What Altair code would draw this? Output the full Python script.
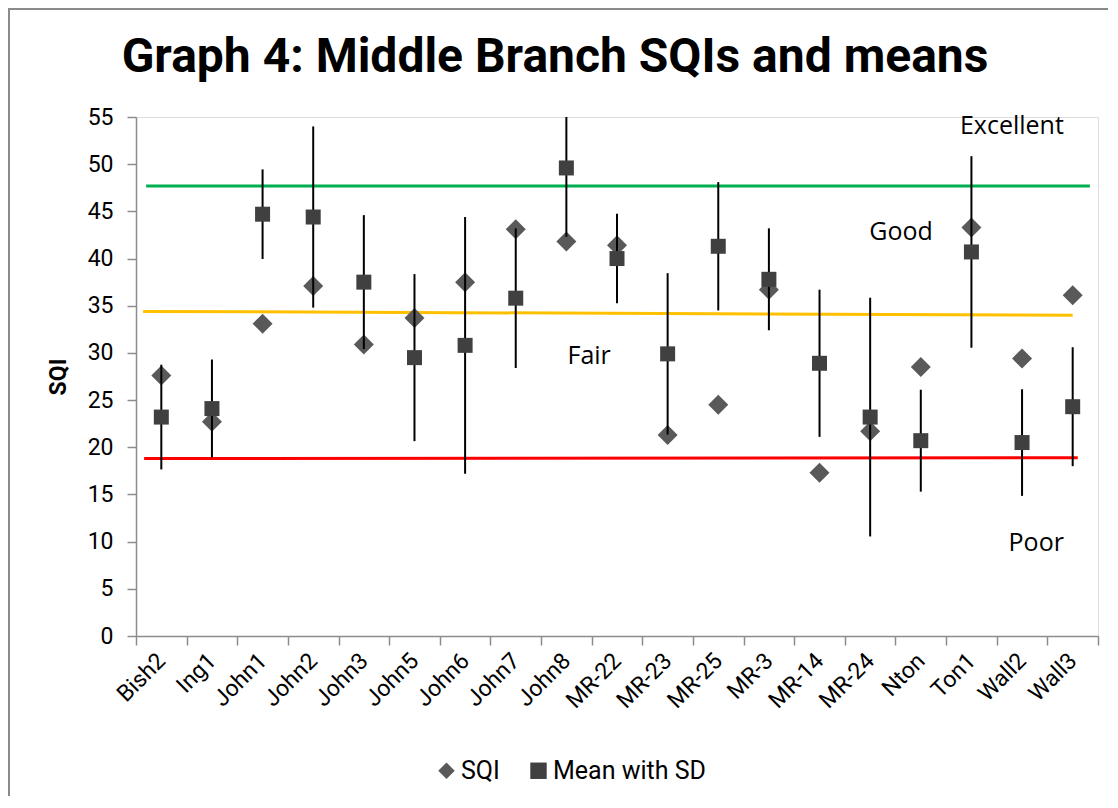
import altair as alt
import pandas as pd

sites = ["Bish2", "Ing1", "John1", "John2", "John3", "John5", "John6", "John7", "John8",
         "MR-22", "MR-23", "MR-25", "MR-3", "MR-14", "MR-24", "Nton", "Ton1", "Wall2", "Wall3"]
sqi = [27.6, 22.7, 33.1, 37.1, 30.9, 33.7, 37.5, 43.1, 41.8, 41.4,
       21.3, 24.5, 36.7, 17.3, 21.7, 28.5, 43.3, 29.4, 36.1]
means = [23.2, 24.1, 44.7, 44.4, 37.5, 29.5, 30.8, 35.8, 49.6, 40.0,
         29.9, 41.3, 37.8, 28.9, 23.2, 20.7, 40.7, 20.5, 24.3]
sds = [5.55, 5.2, 4.75, 9.6, 7.1, 8.85, 13.6, 7.4, 7.3, 4.75,
       8.55, 6.8, 5.4, 7.8, 12.65, 5.4, 10.15, 5.65, 6.3]

# threshold lines (secondary 0-19 x scale)
line_level = ["Excellent", "Excellent", "Good", "Good", "Poor", "Poor"]
line_x = [0.2, 18.84, 0.14, 18.5, 0.16, 18.6]
line_y = [47.7, 47.7, 34.4, 34.0, 18.8, 18.9]
line_colors = {"Excellent": "#00B050", "Good": "#FFC000", "Poor": "#FF0000"}

# class labels
label_text = ["Excellent", "Good", "Fair", "Poor"]
label_x = [17.30, 15.11, 8.95, 17.78]
label_y = [54.05, 42.8, 29.7, 9.9]

df = pd.DataFrame({"site": sites, "sqi": sqi, "mean": means, "sd": sds})
df_lines = pd.DataFrame({"level": line_level, "x": line_x, "y": line_y})
df_labels = pd.DataFrame({"text": label_text, "x": label_x, "y": label_y})

FONT = "Roboto"
LBL = 23
ycale = alt.Scale(domain=[0, 55], nice=False, zero=True)
yax = alt.Axis(values=list(range(0, 56, 5)), labelFontSize=LBL, labelFont=FONT,
               labelColor="black", labelPadding=14, tickSize=9,
               tickColor="#8c8c8c", domainColor="#8c8c8c", domainWidth=1.5,
               tickWidth=1.5, grid=False, titleFont=FONT, titleFontSize=23,
               titleFontWeight="bold", titleColor="black", titleAngle=-90,
               titleAlign="center", titleBaseline="middle", titleX=-78,
               titleY=259.5)

xband = alt.X("site:N", sort=sites, title=None,
              scale=alt.Scale(type="band", domain=sites, paddingInner=0, paddingOuter=0),
              axis=alt.Axis(labelAngle=-45, labelAlign="right", labelBaseline="middle",
                            labelFontSize=LBL, labelFont=FONT, labelColor="black",
                            labelPadding=12, tickBand="extent", tickSize=9,
                            tickColor="#8c8c8c", domainColor="#8c8c8c", domainWidth=1.5,
                            tickWidth=1.5, grid=False, labelOverlap=False))

xq = alt.X("x:Q", scale=alt.Scale(domain=[0, 19], nice=False, zero=False), axis=None)

legend_names = ["SQI", "Mean with SD"]
shape_scale = alt.Scale(domain=legend_names, range=["diamond", "square"])
color_scale = alt.Scale(domain=legend_names, range=["#595959", "#404040"])
leg = alt.Legend(title=None, orient="none", legendX=298, legendY=641, direction="horizontal",
                 labelFontSize=25, labelFont=FONT, labelColor="black", symbolSize=270,
                 columnPadding=26, labelOffset=2, symbolStrokeWidth=0, symbolOpacity=1)

thr_layers = []
for lvl, col in line_colors.items():
    thr_layers.append(
        alt.Chart(df_lines).transform_filter(alt.datum.level == lvl)
        .mark_line(strokeWidth=3, color=col)
        .encode(x=xq, y=alt.Y("y:Q", scale=ycale, axis=yax, title="SQI"))
    )

texts = alt.Chart(df_labels).mark_text(font="Open Sans", fontSize=25, color="black",
                                       align="center", baseline="middle").encode(
    x=xq,
    y=alt.Y("y:Q", scale=ycale, axis=yax, title="SQI"),
    text="text:N",
)

border = alt.Chart(pd.DataFrame({"a": [0]})).mark_rect(
    fillOpacity=0, stroke="#8a8a8a", strokeWidth=2).encode(
    x=alt.value(-127), x2=alt.value(1010), y=alt.value(-108), y2=alt.value(720))

yenc = alt.Y("v:Q", scale=ycale, axis=yax, title="SQI")

diamonds = alt.Chart(df).mark_point(filled=True, size=400, opacity=1).transform_calculate(
    v="datum.sqi", series="'SQI'").encode(
    x=xband, y=yenc,
    shape=alt.Shape("series:N", scale=shape_scale, legend=leg),
    color=alt.Color("series:N", scale=color_scale, legend=leg),
)

rules = alt.Chart(df).mark_rule(color="black", strokeWidth=2, clip=True).transform_calculate(
    v="datum.mean - datum.sd", v2="datum.mean + datum.sd").encode(
    x=xband, y=yenc, y2="v2:Q",
)

squares = alt.Chart(df).mark_point(filled=True, size=225, opacity=1).transform_calculate(
    v="datum.mean", series="'Mean with SD'").encode(
    x=xband, y=yenc,
    shape=alt.Shape("series:N", scale=shape_scale, legend=leg),
    color=alt.Color("series:N", scale=color_scale, legend=leg),
)

main = alt.layer(diamonds, rules, squares)
over = alt.layer(*thr_layers, texts)

chart = alt.layer(over, main, border).resolve_scale(x="independent").properties(
    width=962, height=519,
    title=alt.TitleParams("Graph 4: Middle Branch SQIs and means", font=FONT, fontSize=48,
                          fontWeight="bold", color="black", anchor="middle", frame="group",
                          dx=-62, dy=48, offset=-64, baseline="alphabetic"),
    autosize=alt.AutoSizeParams(type="none"),
    padding={"left": 128, "top": 109, "right": 10, "bottom": 160},
).configure_view(stroke=None).configure(background="white")

chart.save("out.html", embed_options={"renderer": "svg", "actions": False})
